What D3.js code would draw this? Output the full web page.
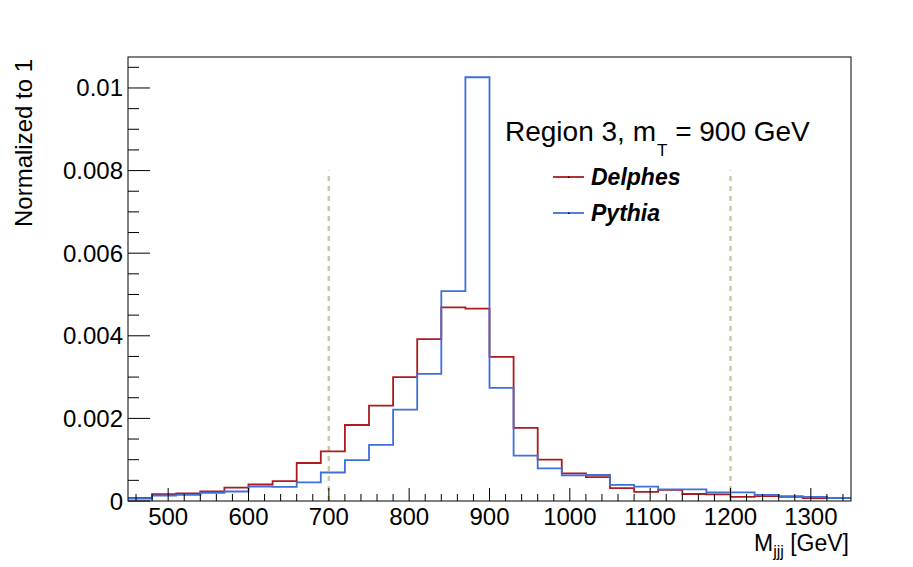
<!DOCTYPE html>
<html>
<head>
<meta charset="utf-8">
<script src="https://cdn.jsdelivr.net/npm/d3@7"></script>
<style>
  body { margin: 0; background: #fff; }
  text { font-family: "Liberation Sans", Arial, sans-serif; }
</style>
</head>
<body>
<div id="chart-area"></div>
<script>
// bin edges: 450 -> 1350 GeV, 30 GeV wide
const binLow = d3.range(450, 1350, 30);
const binWidth = 30;

const delphes = [
  0.000075, 0.000164, 0.000181, 0.00023, 0.000326, 0.0004, 0.00048, 0.00092,
  0.0012, 0.00184, 0.00231, 0.0030, 0.00392, 0.00469, 0.00466, 0.00349,
  0.00177, 0.0010, 0.00067, 0.00058, 0.00031, 0.00022, 0.00027, 0.00017,
  0.00016, 0.00010, 0.000116, 0.00010, 0.00007, 0.00007
];
const pythia = [
  0.00006, 0.000133, 0.00015, 0.0002, 0.00023, 0.00035, 0.00034, 0.00045,
  0.00069, 0.00099, 0.00136, 0.00221, 0.00308, 0.00508, 0.01026, 0.00274,
  0.0011, 0.00079, 0.00062, 0.00063, 0.00039, 0.00035, 0.00028, 0.00028,
  0.00021, 0.00021, 0.00015, 0.00012, 0.0001, 0.00007
];
const cutLines = [700, 1200];
const cutHeight = 0.008;
const xTicks = [500, 600, 700, 800, 900, 1000, 1100, 1200, 1300];
const yTicks = [0, 0.002, 0.004, 0.006, 0.008, 0.01];
const yTickLabels = ['0', '0.002', '0.004', '0.006', '0.008', '0.01'];

const margin = { left: 128, right: 62, top: 57, bottom: 66 };
const W = 913, H = 567;
const width = W - margin.left - margin.right;
const height = H - margin.top - margin.bottom;

const svg = d3.select('#chart-area')
    .append('svg')
    .attr('width', W)
    .attr('height', H);

const g = svg.append('g')
    .attr('transform', 'translate(' + margin.left + ', ' + margin.top + ')');

const x = d3.scaleLinear().domain([450, 1350]).range([0, width]);
const y = d3.scaleLinear().domain([0, 0.01075]).range([height, 0]);

g.append('clipPath').attr('id', 'clip')
    .append('rect').attr('width', width).attr('height', height);

// cut lines
g.selectAll('.cut')
    .data(cutLines)
    .enter()
    .append('line')
    .attr('x1', d => x(d)).attr('x2', d => x(d))
    .attr('y1', y(0)).attr('y2', y(cutHeight))
    .attr('stroke', '#cdc6a5')
    .attr('stroke-width', 2.5)
    .attr('stroke-dasharray', '5,5');

// histograms as steps
const step = d3.line()
    .x(d => x(d[0]))
    .y(d => y(d[1]))
    .curve(d3.curveStepAfter);

function histPoints(vals) {
    const pts = vals.map((v, i) => [binLow[i], v]);
    pts.push([binLow[binLow.length - 1] + binWidth, vals[vals.length - 1]]);
    return pts;
}

const series = [
    { name: 'Delphes', vals: delphes, color: '#ad1a1f' },
    { name: 'Pythia', vals: pythia, color: '#3d70d9' }
];

series.forEach(s => {
    g.append('path')
        .attr('d', step(histPoints(s.vals)))
        .attr('fill', 'none')
        .attr('stroke', s.color)
        .attr('stroke-width', 1.8)
        .attr('clip-path', 'url(#clip)');
});

// frame
g.append('rect')
    .attr('width', width).attr('height', height)
    .attr('fill', 'none').attr('stroke', '#000').attr('stroke-width', 1);

// x axis ticks
const xMinor = d3.range(460, 1350, 20).filter(v => v % 100 !== 0);
g.selectAll('.xminor').data(xMinor).enter().append('line')
    .attr('x1', d => x(d)).attr('x2', d => x(d))
    .attr('y1', height).attr('y2', height - 7)
    .attr('stroke', '#000');
g.selectAll('.xmajor').data(xTicks).enter().append('line')
    .attr('x1', d => x(d)).attr('x2', d => x(d))
    .attr('y1', height).attr('y2', height - 13)
    .attr('stroke', '#000');
g.selectAll('.xlab').data(xTicks).enter().append('text')
    .attr('x', d => x(d))
    .attr('y', height + 24)
    .attr('text-anchor', 'middle')
    .attr('font-size', 24)
    .text(d => d);

// y axis ticks
const yMinor = d3.range(0.0005, 0.0107, 0.0005).filter(v => Math.abs(v / 0.002 - Math.round(v / 0.002)) > 1e-6);
g.selectAll('.yminor').data(yMinor).enter().append('line')
    .attr('x1', 0).attr('x2', 11)
    .attr('y1', d => y(d)).attr('y2', d => y(d))
    .attr('stroke', '#000');
g.selectAll('.ymajor').data(yTicks).enter().append('line')
    .attr('x1', 0).attr('x2', 22)
    .attr('y1', d => y(d)).attr('y2', d => y(d))
    .attr('stroke', '#000');
g.selectAll('.ylab').data(yTicks).enter().append('text')
    .attr('x', -5)
    .attr('y', d => y(d) + 8.5)
    .attr('text-anchor', 'end')
    .attr('font-size', 24)
    .text((d, i) => yTickLabels[i]);

// axis titles
svg.append('text')
    .attr('transform', 'translate(32, 227) rotate(-90)')
    .attr('font-size', 24)
    .text('Normalized to 1');

const xt = svg.append('text')
    .attr('x', 849).attr('y', 551)
    .attr('text-anchor', 'end')
    .attr('font-size', 23);
xt.append('tspan').text('M');
xt.append('tspan').attr('font-size', 16).attr('dy', 6).text('jjj');
xt.append('tspan').attr('dy', -6).text(' [GeV]');

// legend header
const hdr = svg.append('text')
    .attr('x', 505).attr('y', 141)
    .attr('font-size', 28);
hdr.append('tspan').text('Region 3, m');
hdr.append('tspan').attr('font-size', 17).attr('dy', 15).attr('dx', 1).text('T');
hdr.append('tspan').attr('dy', -15).text(' = 900 GeV');

// legend entries
const legY = [177, 213];
series.forEach((s, i) => {
    svg.append('line')
        .attr('x1', 553).attr('x2', 584)
        .attr('y1', legY[i]).attr('y2', legY[i])
        .attr('stroke', s.color).attr('stroke-width', 1.8);
    svg.append('rect')
        .attr('x', 568).attr('y', legY[i] - 0.5)
        .attr('width', 1.5).attr('height', 1.5)
        .attr('fill', '#000');
    svg.append('text')
        .attr('x', 591).attr('y', legY[i] + 8)
        .attr('font-size', 23)
        .attr('font-weight', 'bold')
        .attr('font-style', 'italic')
        .text(s.name);
});
</script>
</body>
</html>
